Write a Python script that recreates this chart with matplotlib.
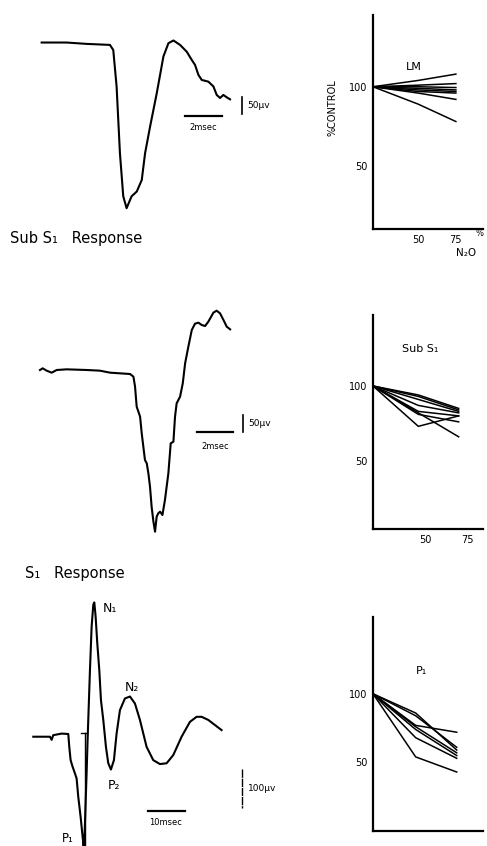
import matplotlib.pyplot as plt

W, H = 487, 846

# evoked potential traces, time in msec, amplitude in microvolts
lm_t = [0, 1.35, 2.43, 3.69, 3.87, 4.05, 4.23, 4.41, 4.59, 4.86, 5.14, 5.41, 5.59, 5.86,
        6.22, 6.58, 6.85, 7.12, 7.48, 7.84, 8.11, 8.29, 8.47, 8.65, 9.01, 9.28, 9.46,
        9.64, 9.82, 10.0, 10.18]
lm_v = [2, 2, -2, -5, -20, -127, -323, -450, -485, -450, -436, -402, -323, -245,
        -147, -39, 0, 8, -5, -25, -49, -64, -93, -108, -113, -127, -152,
        -161, -152, -159, -165]

sub_t = [0, 0.15, 0.37, 0.65, 0.93, 1.48, 2.59, 3.33, 3.89, 5.0, 5.19, 5.28, 5.37, 5.56,
         5.65, 5.83, 5.93, 6.02, 6.11, 6.20, 6.30, 6.39, 6.48, 6.57, 6.67, 6.80, 6.94,
         7.13, 7.26, 7.41, 7.50, 7.59, 7.78, 7.93, 8.06, 8.24, 8.43, 8.61, 8.80, 8.98,
         9.17, 9.35, 9.63, 9.81, 10.0, 10.19, 10.37, 10.56]
sub_v = [2, 7, 0, -6, 2, 4, 2, 0, -6, -10, -18, -48, -108, -138,
         -188, -268, -278, -308, -348, -408, -453, -483, -438, -428, -423, -433, -388,
         -308, -218, -213, -138, -98, -78, -38, 22, 72, 122, 141, 144, 137,
         134, 147, 174, 180, 172, 152, 132, 124]

s1_t = [0, 4.5, 4.95, 5.4, 7.66, 9.46, 9.73, 10.09, 10.63, 11.26, 11.71, 12.16, 12.79,
        13.33, 13.6, 13.87, 14.14, 14.41, 14.68, 14.95, 15.32, 15.77, 16.22, 16.49, 16.85,
        17.3, 17.84, 18.29, 18.92, 19.64, 20.27, 20.99, 21.8, 22.52, 23.42, 24.77, 26.13,
        27.48, 28.83, 30.63, 32.43, 34.23, 36.04, 37.84, 40.09, 42.34, 44.14, 45.5, 47.3,
        49.1, 50.9]
s1_v = [0, 0, -8, 4, 8, 7, -26, -60, -77, -94, -107, -154, -205,
        -256, -280, -248, -171, -94, -9, 68, 171, 282, 338, 344, 308,
        239, 171, 94, 43, -26, -68, -84, -60, 8, 68, 98, 103,
        85, 43, -26, -60, -70, -68, -47, 0, 38, 51, 51, 43,
        30, 17]

# percent of control against % N2O
lm_x = [20, 50, 75]
lm_lines = [[100, 104, 108], [100, 101, 102], [100, 100, 99.5], [100, 99, 98],
            [100, 98, 97], [100, 97, 96], [100, 96, 92], [100, 89, 78]]
subs1_x = [19, 46, 70]
subs1_lines = [[100, 94, 85], [100, 93, 84], [100, 91, 83], [100, 87, 82],
               [100, 83, 80], [100, 81, 76], [100, 82, 66], [100, 73, 80]]
p1_x = [24, 50, 75]
p1_lines = [[100, 86, 59], [100, 84, 61], [100, 77, 72], [100, 76, 57],
            [100, 74, 55], [100, 68, 53], [100, 54, 43]]

plt.rcParams['font.family'] = 'DejaVu Sans'
fig = plt.figure(figsize=(W / 100, H / 100), dpi=100)


def box(x0, y0, x1, y1):
    return fig.add_axes([x0 / W, 1 - y1 / H, (x1 - x0) / W, (y1 - y0) / H])


def px(x, y):
    return x / W, 1 - y / H


# ---- traces ----
tr1 = box(0, 0, 300, 280)
tr1.plot(lm_t, lm_v, color='k', lw=1.5)
tr1.set_xlim(-2.25, 13.96)
tr1.set_ylim(-696, 127)
tr1.plot([7.75, 9.75], [-214, -214], color='k', lw=1.6)
tr1.plot([10.81, 10.81], [-157, -207], color='k', lw=1.2)
tr1.axis('off')

tr2 = box(0, 290, 300, 560)
tr2.plot(sub_t, sub_v, color='k', lw=1.5)
tr2.set_xlim(-2.22, 14.44)
tr2.set_ylim(-568, 242)
tr2.plot([8.7, 10.7], [-185, -185], color='k', lw=1.6)
tr2.plot([11.26, 11.26], [-133, -183], color='k', lw=1.2)
tr2.axis('off')

tr3 = box(0, 570, 300, 848)
tr3.plot(s1_t, s1_v, color='k', lw=1.5, clip_on=False)
tr3.plot([14.0, 14.0], [10, -285], color='k', lw=1.0, clip_on=False)
tr3.plot([12.9, 14.6], [10, 10], color='k', lw=1.0)
tr3.set_xlim(-9.0, 72.1)
tr3.set_ylim(-285, 427)
tr3.plot([31.1, 41.1], [-190, -190], color='k', lw=1.6)
tr3.plot([56.3, 56.3], [-82, -182], color='k', lw=1.0, ls=(0, (6, 0.6)))
tr3.axis('off')

fig.text(*px(203, 128), '2msec', fontsize=6, ha='center', va='center')
fig.text(*px(247, 105), '50µv', fontsize=6.5, ha='left', va='center')
fig.text(*px(215, 446), '2msec', fontsize=6, ha='center', va='center')
fig.text(*px(248, 424), '50µv', fontsize=6.5, ha='left', va='center')
fig.text(*px(166, 822), '10msec', fontsize=6, ha='center', va='center')
fig.text(*px(248, 788), '100µv', fontsize=6.5, ha='left', va='center')

fig.text(*px(10, 238), 'Sub S₁   Response', fontsize=10.5, ha='left', va='center')
fig.text(*px(25, 573), 'S₁   Response', fontsize=10.5, ha='left', va='center')
fig.text(*px(103, 608), 'N₁', fontsize=9, ha='left', va='center')
fig.text(*px(125, 687), 'N₂', fontsize=9, ha='left', va='center')
fig.text(*px(108, 785), 'P₂', fontsize=9, ha='left', va='center')
fig.text(*px(62, 845), 'P₁', fontsize=8.5, ha='left', va='bottom')


# ---- percent control panels ----
def panel(y0, y1, xs, lines, xlim, ylim):
    ax = box(373, y0, 483, y1)
    for ln in lines:
        ax.plot(xs, ln, color='k', lw=1.1, solid_joinstyle='miter')
    ax.set_xlim(*xlim)
    ax.set_ylim(*ylim)
    for s in ['top', 'right']:
        ax.spines[s].set_visible(False)
    for s in ['left', 'bottom']:
        ax.spines[s].set_linewidth(1.6)
    ax.set_yticks([50, 100])
    ax.tick_params(length=0, labelsize=7, pad=4)
    return ax


ax1 = panel(15, 229, lm_x, lm_lines, (20, 93), (10, 145.4))
ax1.set_xticks([50, 75])
ax1.text(47, 112.5, 'LM', fontsize=8, ha='center', va='center')
ax1.text(90.8, 10, '%', fontsize=6, ha='center', va='top')
ax1.text(81.6, -5.2, 'N₂O', fontsize=7.5, ha='center', va='center')
ax1.text(-0.37, 0.565, '%CONTROL', transform=ax1.transAxes, rotation=90,
         fontsize=7, ha='center', va='center')

ax2 = panel(315, 529, subs1_x, subs1_lines, (19, 84.5), (4.3, 147.5))
ax2.set_xticks([50, 75])
ax2.text(47, 124.8, 'Sub S₁', fontsize=8, ha='center', va='center')

ax3 = panel(617, 831, p1_x, p1_lines, (24, 91), (0, 156))
ax3.set_xticks([])
ax3.text(53.3, 116.7, 'P₁', fontsize=8, ha='center', va='center')

fig.savefig('out.png', dpi=100)
